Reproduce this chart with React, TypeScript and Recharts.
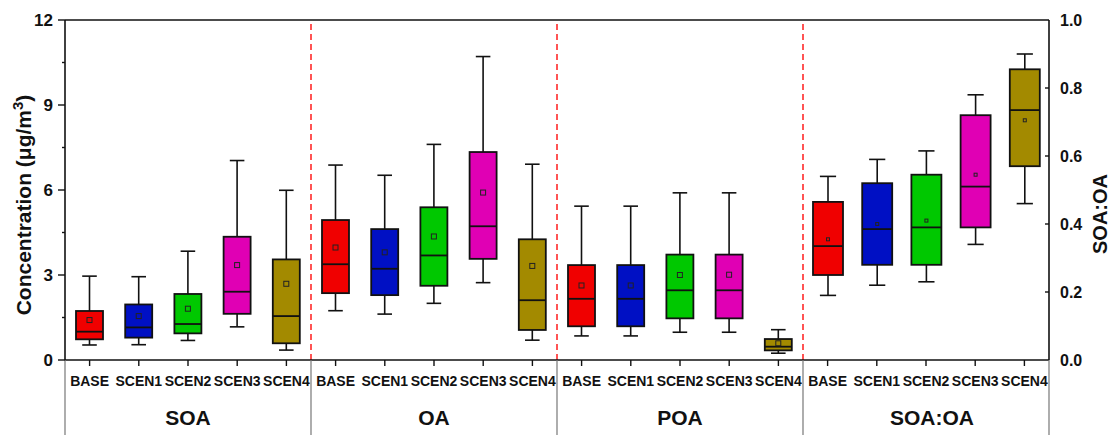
import { ComposedChart, Bar, XAxis, YAxis, ReferenceLine } from "recharts";

const groups = ["SOA", "OA", "POA", "SOA:OA"];
const scenarios = ["BASE", "SCEN1", "SCEN2", "SCEN3", "SCEN4"];

// box statistics, 5 scenarios per group, groups in order above
const whiskerLow = [0.53, 0.54, 0.69, 1.17, 0.35, 1.74, 1.62, 2.0, 2.73, 0.7, 0.85, 0.85, 0.98, 0.98, 0.24, 0.19, 0.22, 0.23, 0.34, 0.46];
const quartile1 = [0.73, 0.79, 0.94, 1.63, 0.59, 2.36, 2.29, 2.62, 3.57, 1.06, 1.19, 1.19, 1.47, 1.47, 0.34, 0.25, 0.28, 0.28, 0.39, 0.57];
const medians = [1.0, 1.15, 1.27, 2.41, 1.55, 3.38, 3.22, 3.69, 4.72, 2.11, 2.16, 2.16, 2.46, 2.46, 0.47, 0.335, 0.385, 0.39, 0.51, 0.735];
const quartile3 = [1.73, 1.96, 2.33, 4.35, 3.55, 4.94, 4.62, 5.39, 7.34, 4.26, 3.35, 3.35, 3.72, 3.72, 0.74, 0.465, 0.52, 0.545, 0.72, 0.855];
const whiskerHigh = [2.96, 2.94, 3.84, 7.04, 5.99, 6.88, 6.52, 7.61, 10.71, 6.91, 5.43, 5.43, 5.9, 5.9, 1.07, 0.54, 0.59, 0.615, 0.78, 0.9];
const means = [1.41, 1.55, 1.81, 3.35, 2.69, 3.97, 3.8, 4.36, 5.91, 3.32, 2.63, 2.63, 3.0, 3.01, 0.59, 0.355, 0.4, 0.41, 0.545, 0.705];

const concTicks = [0, 1.5, 3, 4.5, 6, 7.5, 9, 10.5, 12];
const ratioTicks = [0, 0.2, 0.4, 0.6, 0.8, 1.0];
const RATIO_GROUP = "SOA:OA";

const BOX_COLORS = ["#F00000", "#0010C4", "#00C800", "#E000B4", "#A38A00"];
const FONT = '"Liberation Sans", Arial, sans-serif';

const W = 1112;
const H = 435;
const LEFT_W = 65;
const RIGHT_W = 63;
const X_AXIS_H = 75;
const BAND = (W - LEFT_W - RIGHT_W) / (groups.length * scenarios.length);

const rows = groups.flatMap((group, gi) =>
  scenarios.map((scenario, si) => {
    const i = gi * scenarios.length + si;
    const range = [whiskerLow[i], whiskerHigh[i]];
    const isRatio = group === RATIO_GROUP;
    return {
      key: `${group}|${scenario}`,
      group,
      scenario,
      si,
      conc: isRatio ? null : range,
      ratio: isRatio ? range : null,
      low: whiskerLow[i],
      q1: quartile1[i],
      med: medians[i],
      q3: quartile3[i],
      high: whiskerHigh[i],
      mean: means[i],
    };
  })
);

const boundaries = groups.slice(0, -1).map((g) => `${g}|${scenarios[scenarios.length - 1]}`);

const makeBoxShape = (field: "conc" | "ratio", markSize: number) => (props: any) => {
  const { x, y, width, height, payload } = props;
  if (!payload || payload[field] == null || x == null) return <g />;
  const top = Math.min(y, y + height);
  const bottom = Math.max(y, y + height);
  const { low, high } = payload;
  const py = (v: number) => bottom - ((v - low) / (high - low)) * (bottom - top);
  const cx = x + width / 2;
  const cap = width * 0.27;
  const color = BOX_COLORS[payload.si];
  return (
    <g>
      <line x1={cx} x2={cx} y1={py(high)} y2={py(payload.q3)} stroke="#111" strokeWidth={1.6} />
      <line x1={cx} x2={cx} y1={py(payload.q1)} y2={py(low)} stroke="#111" strokeWidth={1.6} />
      <line x1={cx - cap} x2={cx + cap} y1={py(high)} y2={py(high)} stroke="#111" strokeWidth={1.6} />
      <line x1={cx - cap} x2={cx + cap} y1={py(low)} y2={py(low)} stroke="#111" strokeWidth={1.6} />
      <rect
        x={x}
        y={py(payload.q3)}
        width={width}
        height={py(payload.q1) - py(payload.q3)}
        fill={color}
        stroke="#111"
        strokeWidth={1.8}
      />
      <line x1={x} x2={x + width} y1={py(payload.med)} y2={py(payload.med)} stroke="#111" strokeWidth={1.8} />
      <rect
        x={cx - markSize / 2}
        y={py(payload.mean) - markSize / 2}
        width={markSize}
        height={markSize}
        fill="none"
        stroke="#222"
        strokeWidth={1}
      />
    </g>
  );
};

function CategoryTick(props: any) {
  const { x, y, payload, index } = props;
  const [group, scenario] = String(payload.value).split("|");
  const si = scenarios.indexOf(scenario);
  const axisY = y - 14;
  const half = BAND / 2;
  return (
    <g fontFamily={FONT} fontWeight={700} fill="#111">
      <text x={x} y={axisY + 26} textAnchor="middle" fontSize={14}>
        {scenario}
      </text>
      {si === 2 && (
        <text x={group === RATIO_GROUP ? x + 6 : x} y={axisY + 65} textAnchor="middle" fontSize={21}>
          {group}
        </text>
      )}
      {si === 0 && <line x1={x - half} x2={x - half} y1={axisY} y2={H} stroke="#777" strokeWidth={1.2} />}
      {index === rows.length - 1 && (
        <line x1={x + half} x2={x + half} y1={axisY} y2={H} stroke="#777" strokeWidth={1.2} />
      )}
    </g>
  );
}

function ConcTick(props: any) {
  const { x, y, payload } = props;
  const axisX = x + 12;
  const major = payload.value % 3 === 0;
  return (
    <g>
      <line x1={axisX - (major ? 7 : 3)} x2={axisX} y1={y} y2={y} stroke="#111" strokeWidth={1.4} />
      {major && (
        <text x={x} y={y} dy="0.36em" textAnchor="end" fontSize={17} fontWeight={700} fontFamily={FONT} fill="#111">
          {payload.value}
        </text>
      )}
    </g>
  );
}

function RatioTick(props: any) {
  const { x, y, payload } = props;
  const axisX = x - 11;
  const inner = payload.value > 0 && payload.value < 1;
  return (
    <g>
      {inner && <line x1={axisX - 4} x2={axisX} y1={y} y2={y} stroke="#111" strokeWidth={1.4} />}
      <text x={x} y={y} dy="0.36em" textAnchor="start" fontSize={16} fontWeight={700} fontFamily={FONT} fill="#111">
        {payload.value.toFixed(1)}
      </text>
    </g>
  );
}

const concTitle = () => (
  <text
    transform="translate(31, 205) rotate(-90)"
    textAnchor="middle"
    fontSize={21}
    fontWeight={700}
    fontFamily={FONT}
    fill="#111"
  >
    Concentration (μg/m
    <tspan dy={-8} fontSize={15}>
      3
    </tspan>
    <tspan dy={8}>)</tspan>
  </text>
);

const ratioTitle = () => (
  <text
    transform="translate(1107, 214) rotate(-90)"
    textAnchor="middle"
    fontSize={20}
    fontWeight={700}
    fontFamily={FONT}
    fill="#111"
  >
    SOA:OA
  </text>
);

export default function App() {
  return (
    <div style={{ position: "absolute", left: 0, top: 0, background: "#fff", fontFamily: FONT }}>
      <ComposedChart width={W} height={H} data={rows} margin={{ top: 20, right: 0, left: 0, bottom: 0 }}>
        <XAxis
          xAxisId="a"
          dataKey="key"
          interval={0}
          height={X_AXIS_H}
          tick={<CategoryTick />}
          tickSize={6}
          tickMargin={8}
          tickLine={{ stroke: "#111", strokeWidth: 1.4 }}
          axisLine={{ stroke: "#111", strokeWidth: 1.6 }}
        />
        <XAxis xAxisId="b" dataKey="key" hide />
        <YAxis
          yAxisId="left"
          width={LEFT_W}
          domain={[0, 12]}
          ticks={concTicks}
          interval={0}
          tick={<ConcTick />}
          tickLine={false}
          tickSize={0}
          tickMargin={12}
          axisLine={{ stroke: "#111", strokeWidth: 1.6 }}
          label={{ value: "Concentration", content: concTitle }}
        />
        <YAxis
          yAxisId="right"
          orientation="right"
          width={RIGHT_W}
          domain={[0, 1]}
          ticks={ratioTicks}
          interval={0}
          tick={<RatioTick />}
          tickLine={false}
          tickSize={0}
          tickMargin={11}
          axisLine={{ stroke: "#111", strokeWidth: 1.6 }}
          label={{ value: "SOA:OA", content: ratioTitle }}
        />
        <ReferenceLine xAxisId="a" yAxisId="left" y={12} stroke="#111" strokeWidth={1.6} />
        {boundaries.map((b) => (
          <ReferenceLine
            key={b}
            xAxisId="a"
            yAxisId="left"
            x={b}
            position="end"
            stroke="#FF2A2A"
            strokeWidth={1.6}
            strokeDasharray="6 4"
          />
        ))}
        <Bar
          xAxisId="a"
          yAxisId="left"
          dataKey="conc"
          barSize={27}
          shape={makeBoxShape("conc", 5)}
          isAnimationActive={false}
        />
        <Bar
          xAxisId="b"
          yAxisId="right"
          dataKey="ratio"
          barSize={30}
          shape={makeBoxShape("ratio", 3)}
          isAnimationActive={false}
        />
      </ComposedChart>
    </div>
  );
}
